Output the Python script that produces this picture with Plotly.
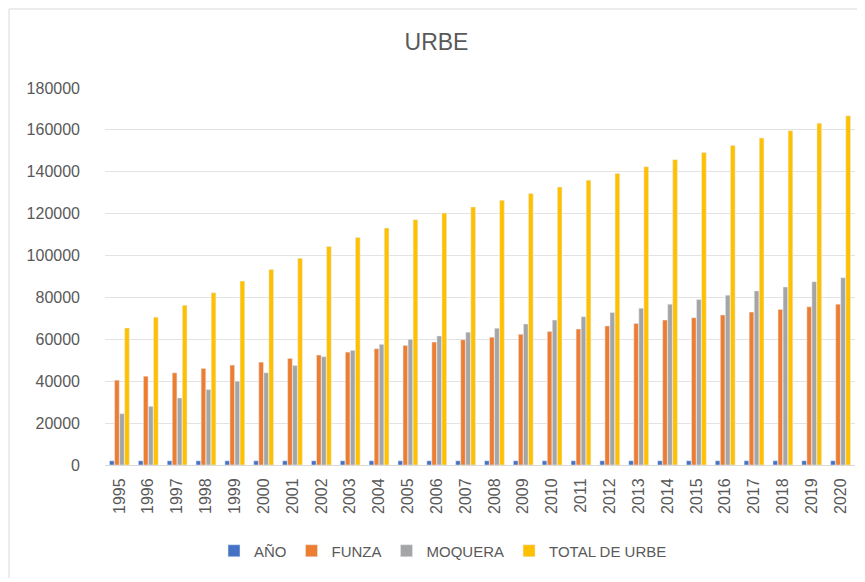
import plotly.graph_objects as go

years = [str(y) for y in range(1995, 2021)]
anio = list(range(1995, 2021))
funza = [40500, 42400, 44000, 46100, 47700, 49100, 50900, 52500, 53900, 55500,
         57100, 58700, 59800, 61000, 62400, 63700, 64900, 66400, 67600, 69200,
         70300, 71600, 73000, 74300, 75500, 76800]
moquera = [24500, 28000, 32000, 36000, 40000, 44000, 47500, 51700, 54700, 57600,
           60000, 61600, 63400, 65300, 67300, 69200, 70800, 72800, 74900, 76800,
           79000, 81100, 83100, 85000, 87500, 89400]
total = [65400, 70600, 76300, 82200, 87800, 93300, 98700, 104300, 108600, 113100,
         117100, 120300, 123200, 126400, 129600, 132700, 136000, 139200, 142400, 145800,
         149200, 152600, 156100, 159600, 163200, 166700]

font = "Liberation Sans Narrow, Liberation Sans, Arial"
grey_txt = "#595959"

# page body has an 8px margin, so the figure is sized to fit the window
W, H = 857, 574
L, R, T, B = 97, 10, 80, 117
pw, ph = W - L - R, H - T - B

fig = go.Figure()
fig.add_bar(x=years, y=anio, name="AÑO", marker_color="#4472C4")
fig.add_bar(x=years, y=funza, name="FUNZA", marker_color="#ED7D31")
fig.add_bar(x=years, y=moquera, name="MOQUERA", marker_color="#A5A5A5")
fig.add_bar(x=years, y=total, name="TOTAL DE URBE", marker_color="#FFC000")

fig.update_layout(
    width=W, height=H,
    margin=dict(l=L, r=R, t=T, b=B),
    paper_bgcolor="white", plot_bgcolor="white",
    font=dict(family=font, color=grey_txt, size=14),
    title=dict(text="URBE", x=0.5, xanchor="center", y=1 - 34 / H, yanchor="middle",
               font=dict(size=23, color=grey_txt, family=font)),
    barmode="group", bargap=0.3, bargroupgap=0.08,
    showlegend=True,
    legend=dict(orientation="h", x=(435 - L) / pw, xanchor="center",
                y=(ph - (543 - T)) / ph, yanchor="middle",
                font=dict(size=15, color=grey_txt), itemwidth=30, traceorder="normal"),
    shapes=[
        dict(type="line", xref="paper", yref="paper",
             x0=(1 - L) / pw, x1=(1 - L) / pw, y0=-(B - 4) / ph, y1=1 + (T - 1) / ph,
             line=dict(color="#d9d9d9", width=1)),
        dict(type="line", xref="paper", yref="paper",
             x0=(1 - L) / pw, x1=1 + (R - 1) / pw, y0=1 + (T - 1) / ph, y1=1 + (T - 1) / ph,
             line=dict(color="#d9d9d9", width=1)),
    ],
)
fig.update_xaxes(tickangle=-90, tickfont=dict(size=16, color=grey_txt),
                 showline=True, linecolor="#d9d9d9", ticks="", showgrid=False,
                 ticklabelstandoff=6)
fig.update_yaxes(range=[0, 180000], dtick=20000, tickformat="d",
                 tickfont=dict(size=16, color=grey_txt),
                 gridcolor="#e3e3e3", zeroline=False, showline=False, ticks="",
                 ticklen=0, ticklabelstandoff=24)

fig.write_html("out.html")
